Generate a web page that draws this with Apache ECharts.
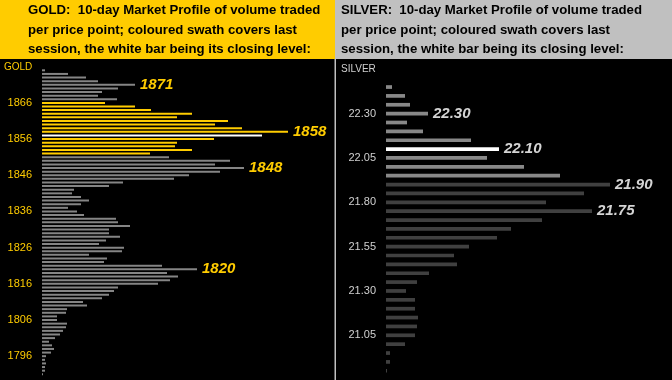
<!DOCTYPE html>
<html><head><meta charset="utf-8">
<script src="https://cdn.jsdelivr.net/npm/echarts@6/dist/echarts.min.js"></script>
<style>html,body{margin:0;padding:0;background:#000}#c{width:672px;height:380px}</style>
</head><body><div id="c"></div>
<script>
// GOLD: price points (top to bottom) and volume traded at each
const goldPrices = ['1875','1874','1873','1872','1871','1870','1869','1868','1867','1866','1865','1864','1863','1862','1861','1860','1859','1858','1857','1856','1855','1854','1853','1852','1851','1850','1849','1848','1847','1846','1845','1844','1843','1842','1841','1840','1839','1838','1837','1836','1835','1834','1833','1832','1831','1830','1829','1828','1827','1826','1825','1824','1823','1822','1821','1820','1819','1818','1817','1816','1815','1814','1813','1812','1811','1810','1809','1808','1807','1806','1805','1804','1803','1802','1801','1800','1799','1798','1797','1796','1795','1794','1793','1792','1791'];
const goldVolume = [3,26,44,56,93,76,60,56,75,63,93,109,150,135,186,173,200,246,220,172,135,133,150,108,127,188,173,202,178,147,132,81,67,32,30,39,47,39,26,35,42,74,76,88,67,67,78,64,57,82,80,47,65,62,120,155,125,136,128,116,76,72,67,60,41,45,25,24,15,15,25,24,21,18,13,7,10,12,9,4,3,4,3,3,1];
const goldTickLabels = ['1866','1856','1846','1836','1826','1816','1806','1796'];
const goldCallouts = ['1871','1858','1848','1820'];
const goldSwath = ['1866','1852'];   // last session range (high, low)
const goldClose = '1857';

// SILVER
const silverPrices = ['22.45','22.40','22.35','22.30','22.25','22.20','22.15','22.10','22.05','22.00','21.95','21.90','21.85','21.80','21.75','21.70','21.65','21.60','21.55','21.50','21.45','21.40','21.35','21.30','21.25','21.20','21.15','21.10','21.05','21.00','20.95','20.90','20.85'];
const silverVolume = [6,19,24,42,21,37,85,113,101,138,174,224,198,160,206,156,125,111,83,68,71,43,31,20,29,29,32,31,29,19,4,4,1];
const silverTickLabels = ['22.30','22.05','21.80','21.55','21.30','21.05'];
const silverCallouts = ['22.30','22.10','21.90','21.75'];
const silverSwath = ['22.45','21.95'];
const silverClose = '22.10';

const FONT = '"Liberation Sans", Arial, sans-serif';

function inSwath(p, sw){ const v=parseFloat(p); return v<=parseFloat(sw[0]) && v>=parseFloat(sw[1]); }

const chart = echarts.init(document.getElementById('c'));
function headerText(prefix, x){
  const lines = [prefix + '  10-day Market Profile of volume traded', 'per price point; coloured swath covers last', 'session, the white bar being its closing level:'];
  const ys = [11, 31, 50];
  return lines.map((t,i)=>({type:'text', left:x, top: ys[i]-7, silent:true, style:{text:t, fill:'#000', font:'bold 13.2px '+FONT}}));
}

const option = {
  backgroundColor:'#000',
  animation:false,
  graphic:[
    {type:'rect', shape:{x:0,y:0,width:335,height:59}, style:{fill:'#FFCC00'}, silent:true},
    {type:'rect', shape:{x:335,y:0,width:337,height:59}, style:{fill:'#C0C0C0'}, silent:true},
    {type:'rect', shape:{x:334.5,y:59,width:1.5,height:321}, style:{fill:'#C0C0C0'}, silent:true},
    ...headerText('GOLD:', 28),
    ...headerText('SILVER:', 341),
    {type:'text', left:4, top:62, silent:true, style:{text:'GOLD', fill:'#FFCC00', font:'10px '+FONT}},
    {type:'text', left:341, top:64, silent:true, style:{text:'SILVER', fill:'#D0D0D0', font:'10px '+FONT}}
  ],
  grid:[
    {left:42, top:68.5, width:292, height:307.6},
    {left:386, top:82.6, width:286, height:292.6}
  ],
  xAxis:[
    {type:'value', gridIndex:0, min:0, max:292, show:false},
    {type:'value', gridIndex:1, min:0, max:286, show:false}
  ],
  yAxis:[
    {type:'category', gridIndex:0, inverse:true, data:goldPrices,
     axisLine:{show:false}, axisTick:{show:false}, splitLine:{show:false},
     axisLabel:{interval:(i,v)=>goldTickLabels.includes(v), color:'#FFCC00', fontSize:11, fontFamily:FONT, margin:10}},
    {type:'category', gridIndex:1, inverse:true, data:silverPrices,
     axisLine:{show:false}, axisTick:{show:false}, splitLine:{show:false},
     axisLabel:{interval:(i,v)=>silverTickLabels.includes(v), color:'#D0D0D0', fontSize:11, fontFamily:FONT, margin:10}}
  ],
  series:[
    {type:'bar', xAxisIndex:0, yAxisIndex:0, data:goldVolume, barWidth:2,
     itemStyle:{color:(p)=>{const c=goldPrices[p.dataIndex]; return c===goldClose?'#FFFFFF':(inSwath(c,goldSwath)?'#FFCC00':'#858585');}},
     label:{show:true, position:'right', distance:5,
       formatter:(p)=>goldCallouts.includes(goldPrices[p.dataIndex])?goldPrices[p.dataIndex]:'',
       color:'#FFCC00', fontSize:15, fontWeight:'bold', fontStyle:'italic', fontFamily:FONT}},
    {type:'bar', xAxisIndex:1, yAxisIndex:1, data:silverVolume, barWidth:3.7,
     itemStyle:{color:(p)=>{const c=silverPrices[p.dataIndex]; return c===silverClose?'#FFFFFF':(inSwath(c,silverSwath)?'#888888':'#404040');}},
     label:{show:true, position:'right', distance:5,
       formatter:(p)=>silverCallouts.includes(silverPrices[p.dataIndex])?silverPrices[p.dataIndex]:'',
       color:'#D4D4D4', fontSize:15, fontWeight:'bold', fontStyle:'italic', fontFamily:FONT}}
  ]
};
chart.setOption(option);
</script></body></html>
